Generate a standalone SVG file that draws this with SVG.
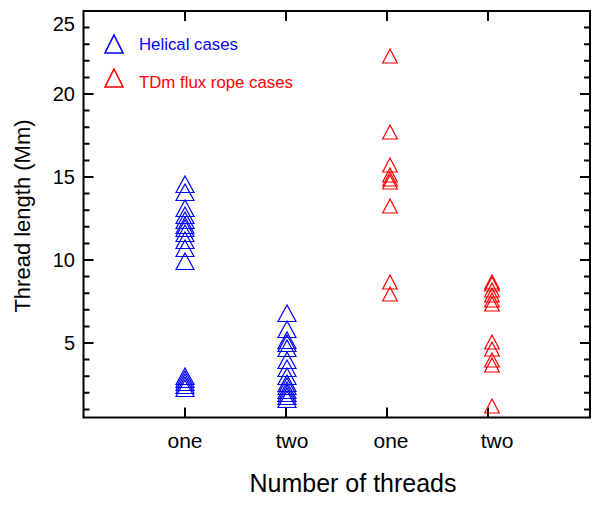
<svg xmlns="http://www.w3.org/2000/svg" xmlns:xlink="http://www.w3.org/1999/xlink" width="610" height="505" viewBox="0 0 610 505">
<style>
text{font-family:"Liberation Sans",Arial,sans-serif;}
.tk{font-size:20px;fill:#000;}
.ax{stroke:#000;stroke-width:2;fill:none;}
.b{fill:none;stroke:#0000ff;stroke-width:1.2;}
.r{fill:none;stroke:#ff0000;stroke-width:1.2;}
</style>
<defs>
<path id="tb" d="M0,0 L9,16.5 L-9,16.5 Z"/>
<path id="tr" d="M0,0 L7.3,14 L-7.3,14 Z"/>
<path id="tl" d="M0,0 L9,18 L-9,18 Z"/>
</defs>
<rect width="610" height="505" fill="#fff"/>
<g id="axes">
<rect class="ax" x="83.5" y="11" width="506.5" height="406.5"/>
<path class="ax" d="M83.5,343h10M83.5,260h10M83.5,177h10M83.5,94h10M580,343h10M580,260h10M580,177h10M580,94h10M185,417.5v-10M286,417.5v-10M387,417.5v-10M488,417.5v-10M185,11v10M286,11v10M387,11v10M488,11v10"/>
<path class="ax" stroke-width="1.6" d="M83.5,409.4h6M83.5,392.8h6M83.5,376.2h6M83.5,359.6h6M83.5,326.4h6M83.5,309.8h6M83.5,293.2h6M83.5,276.6h6M83.5,243.4h6M83.5,226.8h6M83.5,210.2h6M83.5,193.6h6M83.5,160.4h6M83.5,143.8h6M83.5,127.2h6M83.5,110.6h6M83.5,77.4h6M83.5,60.8h6M83.5,44.2h6M83.5,27.6h6M584,409.4h6M584,392.8h6M584,376.2h6M584,359.6h6M584,326.4h6M584,309.8h6M584,293.2h6M584,276.6h6M584,243.4h6M584,226.8h6M584,210.2h6M584,193.6h6M584,160.4h6M584,143.8h6M584,127.2h6M584,110.6h6M584,77.4h6M584,60.8h6M584,44.2h6M584,27.6h6"/>
<g class="tk" text-anchor="end">
<text x="75" y="350">5</text><text x="75" y="267">10</text><text x="75" y="184">15</text><text x="75" y="101">20</text><text x="75" y="31">25</text>
</g>
<g class="tk" text-anchor="middle" style="font-size:21px">
<text x="185" y="448">one</text><text x="292" y="448">two</text><text x="391" y="448">one</text><text x="497" y="448">two</text>
</g>
<text x="353" y="492" font-size="25" text-anchor="middle">Number of threads</text>
<text transform="translate(30,216) rotate(-90)" font-size="22" text-anchor="middle">Thread length (Mm)</text>
</g>
<g id="legend">
<use href="#tl" x="114" y="35" class="b" style="stroke-width:1.6"/>
<text x="139" y="50" font-size="16.8" fill="#0000ff">Helical cases</text>
<use href="#tl" x="114" y="69" class="r" style="stroke-width:1.6"/>
<text x="139" y="88" font-size="16.8" fill="#ff0000">TDm flux rope cases</text>
</g>
<g id="helical-one" class="b">
<use href="#tb" x="185" y="176"/><use href="#tb" x="185" y="184"/><use href="#tb" x="185" y="200"/><use href="#tb" x="185" y="207"/><use href="#tb" x="185" y="212"/><use href="#tb" x="185" y="217"/><use href="#tb" x="185" y="220"/><use href="#tb" x="185" y="225"/><use href="#tb" x="185" y="232"/><use href="#tb" x="185" y="240"/><use href="#tb" x="185" y="253"/>
<use href="#tb" x="185" y="368"/><use href="#tb" x="185" y="371"/><use href="#tb" x="185" y="374"/><use href="#tb" x="185" y="377"/><use href="#tb" x="185" y="380"/>
</g>
<g id="helical-two" class="b">
<use href="#tb" x="287" y="305"/><use href="#tb" x="287" y="321"/><use href="#tb" x="287" y="332"/><use href="#tb" x="287" y="335"/><use href="#tb" x="287" y="340"/><use href="#tb" x="287" y="352"/><use href="#tb" x="287" y="360"/><use href="#tb" x="287" y="368"/><use href="#tb" x="287" y="375"/><use href="#tb" x="287" y="378"/><use href="#tb" x="287" y="382"/><use href="#tb" x="287" y="385"/><use href="#tb" x="287" y="388"/><use href="#tb" x="287" y="391"/>
</g>
<g id="tdm-one" class="r">
<use href="#tr" x="390" y="49"/><use href="#tr" x="390" y="125"/><use href="#tr" x="390" y="158"/><use href="#tr" x="390" y="168"/><use href="#tr" x="390" y="172"/><use href="#tr" x="390" y="175"/><use href="#tr" x="390" y="199"/><use href="#tr" x="390" y="275"/><use href="#tr" x="390" y="287"/>
</g>
<g id="tdm-two" class="r">
<use href="#tr" x="492" y="275"/><use href="#tr" x="492" y="277"/><use href="#tr" x="492" y="283"/><use href="#tr" x="492" y="288"/><use href="#tr" x="492" y="293"/><use href="#tr" x="492" y="297"/><use href="#tr" x="492" y="335"/><use href="#tr" x="492" y="342"/><use href="#tr" x="492" y="353"/><use href="#tr" x="492" y="358"/><use href="#tr" x="492" y="399"/>
</g>
</svg>
